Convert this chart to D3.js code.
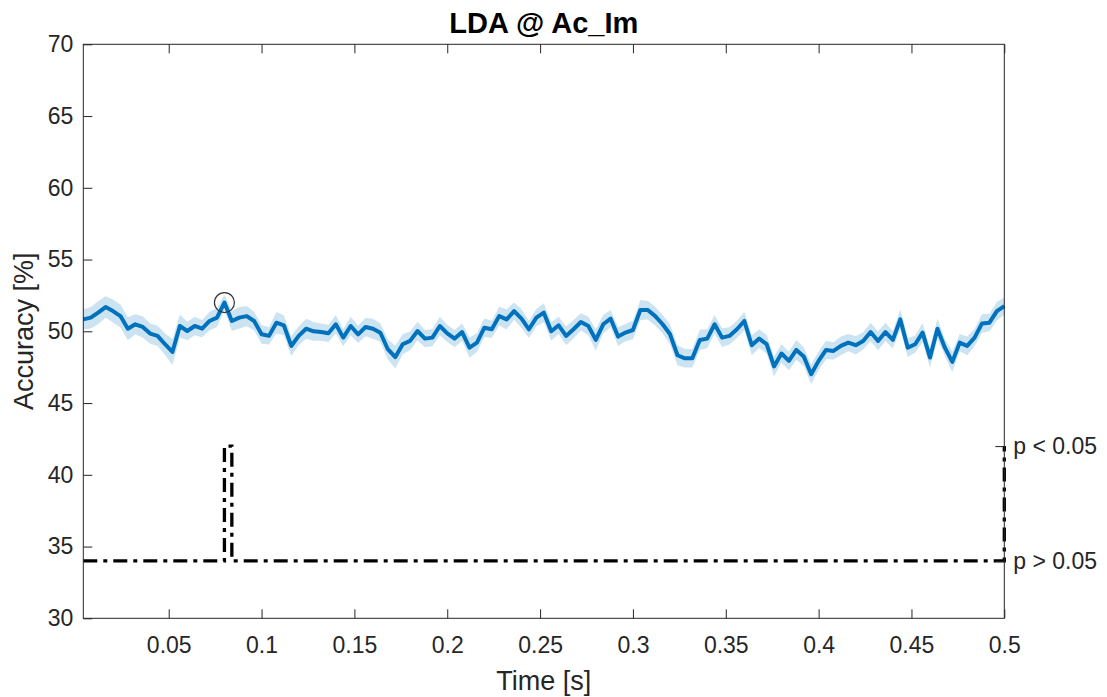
<!DOCTYPE html>
<html>
<head>
<meta charset="utf-8">
<script src="https://cdn.jsdelivr.net/npm/d3@7"></script>
<style>
  html, body { margin: 0; padding: 0; background: #fff; }
  svg { display: block; font-family: "Liberation Sans", Arial, Helvetica, sans-serif; }
</style>
</head>
<body>
<svg id="chart" width="1107" height="697"></svg>
<script>
// Decoding accuracy over time (LDA classifier, condition Ac_Im), sampled at 250 Hz
const sampleRate = 250;

const accuracy = [
  50.83, 50.95, 51.30, 51.69, 51.41, 51.06, 50.18, 50.49, 50.30, 49.84,
  49.68, 49.10, 48.56, 50.37, 50.02, 50.37, 50.18, 50.72, 50.95, 52.00,
  50.72, 50.95, 51.06, 50.72, 49.79, 49.68, 50.60, 50.42, 48.98, 49.68,
  50.18, 50.00, 49.95, 49.86, 50.49, 49.56, 50.37, 49.79, 50.30, 50.18,
  49.90, 48.75, 48.20, 49.10, 49.33, 50.02, 49.49, 49.56, 50.37, 49.86,
  49.49, 49.95, 48.86, 49.21, 50.25, 50.14, 51.06, 50.83, 51.41, 50.88,
  50.14, 50.95, 51.30, 50.00, 50.42, 49.68, 50.14, 50.65, 50.37, 49.40,
  50.49, 50.88, 49.63, 49.91, 50.09, 51.48, 51.48, 51.06, 50.49, 49.79,
  48.33, 48.12, 48.12, 49.40, 49.49, 50.49, 49.56, 49.68, 50.14, 50.72,
  49.03, 49.49, 49.10, 47.55, 48.45, 47.94, 48.70, 48.24, 47.01, 47.94,
  48.70, 48.63, 48.98, 49.21, 49.03, 49.33, 49.95, 49.33, 49.95, 49.40,
  50.83, 48.86, 49.10, 49.91, 48.17, 50.18, 48.86, 47.87, 49.21, 48.98,
  49.56, 50.55, 50.60, 51.41, 51.76
];

// Standard error of the mean for each sample
const sem = [
  0.70, 0.75, 0.80, 0.75, 0.80, 0.80, 0.80, 0.70, 0.75, 0.70,
  0.70, 0.75, 0.90, 0.80, 0.65, 0.65, 0.60, 0.65, 0.65, 0.55,
  0.70, 0.75, 0.70, 0.65, 0.65, 0.60, 0.75, 0.70, 0.70, 0.65,
  0.70, 0.65, 0.60, 0.60, 0.65, 0.60, 0.65, 0.60, 0.65, 0.70,
  0.65, 0.70, 0.80, 0.70, 0.65, 0.65, 0.60, 0.60, 0.65, 0.60,
  0.60, 0.60, 0.70, 0.65, 0.65, 0.60, 0.65, 0.70, 0.60, 0.65,
  0.60, 0.60, 0.65, 0.65, 0.60, 0.65, 0.65, 0.60, 0.65, 0.75,
  0.65, 0.60, 0.65, 0.60, 0.65, 0.70, 0.65, 0.65, 0.65, 0.70,
  0.70, 0.65, 0.65, 0.70, 0.65, 0.65, 0.65, 0.60, 0.60, 0.65,
  0.70, 0.65, 0.65, 0.70, 0.65, 0.65, 0.70, 0.65, 0.70, 0.65,
  0.65, 0.60, 0.65, 0.60, 0.65, 0.60, 0.65, 0.65, 0.65, 0.60,
  0.70, 0.65, 0.60, 0.65, 0.70, 0.70, 0.60, 0.70, 0.60, 0.65,
  0.60, 0.65, 0.60, 0.65, 0.60
];

// Samples (1-based) where the cluster test reaches p < 0.05
const significantSamples = [20, 125];

const xTicks = [0.05, 0.1, 0.15, 0.2, 0.25, 0.3, 0.35, 0.4, 0.45, 0.5];
const yTicks = [30, 35, 40, 45, 50, 55, 60, 65, 70];
const sigLevels = [34, 42];
const sigLabels = ["p > 0.05", "p < 0.05"];

const titleText = "LDA @ Ac_Im";
const xLabelText = "Time [s]";
const yLabelText = "Accuracy [%]";

// ---- layout ----
const plot = { left: 83.3, top: 44.3, right: 1004.3, bottom: 618.3 };
const axisColor = "#262626";
const lineBlue = "#0072BD";

const svg = d3.select("#chart");

const data = accuracy.map((v, i) => ({
  t: (i + 1) / sampleRate,
  v: v,
  se: sem[i],
  sig: significantSamples.includes(i + 1) ? 1 : 0
}));

const x = d3.scaleLinear()
  .domain([1 / sampleRate, accuracy.length / sampleRate])
  .range([plot.left, plot.right]);

const y = d3.scaleLinear()
  .domain([30, 70])
  .range([plot.bottom, plot.top]);

// SEM band
const band = d3.area()
  .x(d => x(d.t))
  .y0(d => y(d.v - d.se))
  .y1(d => y(d.v + d.se));

svg.append("path")
  .datum(data)
  .attr("d", band)
  .attr("fill", lineBlue)
  .attr("fill-opacity", 0.2)
  .attr("stroke", "none");

// Mean accuracy
const meanLine = d3.line()
  .x(d => x(d.t))
  .y(d => y(d.v));

svg.append("path")
  .datum(data)
  .attr("d", meanLine)
  .attr("fill", "none")
  .attr("stroke", lineBlue)
  .attr("stroke-width", 4)
  .attr("stroke-linejoin", "round");

// Marker on the peak accuracy
const peak = data.reduce((a, b) => (b.v > a.v ? b : a));
svg.append("circle")
  .attr("cx", x(peak.t))
  .attr("cy", y(peak.v))
  .attr("r", 10)
  .attr("fill", "none")
  .attr("stroke", "#333")
  .attr("stroke-width", 1.2);

// Significance trace
const sigLine = d3.line()
  .curve(d3.curveStepAfter)
  .x(d => x(d.t))
  .y(d => y(d.sig ? sigLevels[1] : sigLevels[0]));

svg.append("path")
  .datum(data)
  .attr("d", sigLine)
  .attr("fill", "none")
  .attr("stroke", "#000")
  .attr("stroke-width", 3.3)
  .attr("stroke-dasharray", "14,6,4,6");

// ---- axes ----
function styleAxis(g) {
  g.select(".domain").remove();
  g.selectAll(".tick line").attr("stroke", axisColor).attr("stroke-width", 1);
  g.selectAll(".tick text")
    .attr("fill", axisColor)
    .style("font-size", "23px")
    .style("font-family", "'Liberation Sans', Arial, sans-serif");
}

svg.append("g")
  .attr("transform", `translate(0,${plot.bottom})`)
  .call(d3.axisBottom(x).tickValues(xTicks).tickFormat(d3.format("~g"))
    .tickSize(-9).tickSizeOuter(0).tickPadding(18))
  .call(styleAxis);

svg.append("g")
  .attr("transform", `translate(0,${plot.top})`)
  .call(d3.axisTop(x).tickValues(xTicks).tickFormat("")
    .tickSize(-9).tickSizeOuter(0))
  .call(styleAxis);

svg.append("g")
  .attr("transform", `translate(${plot.left},0)`)
  .call(d3.axisLeft(y).tickValues(yTicks).tickFormat(d3.format("d"))
    .tickSize(-9).tickSizeOuter(0).tickPadding(10))
  .call(styleAxis);

svg.append("g")
  .attr("transform", `translate(${plot.right},0)`)
  .call(d3.axisRight(y).tickValues(sigLevels).tickFormat((d, i) => sigLabels[i])
    .tickSize(-9).tickSizeOuter(0).tickPadding(9))
  .call(styleAxis);

// Frame
svg.append("rect")
  .attr("x", plot.left)
  .attr("y", plot.top)
  .attr("width", plot.right - plot.left)
  .attr("height", plot.bottom - plot.top)
  .attr("fill", "none")
  .attr("stroke", axisColor)
  .attr("stroke-width", 1);

// ---- labels ----
const midX = (plot.left + plot.right) / 2;
const midY = (plot.top + plot.bottom) / 2;

svg.append("text")
  .attr("x", midX)
  .attr("y", 33)
  .attr("text-anchor", "middle")
  .attr("fill", "#000")
  .style("font-size", "29px")
  .style("font-weight", "bold")
  .text(titleText);

svg.append("text")
  .attr("x", midX)
  .attr("y", 690)
  .attr("text-anchor", "middle")
  .attr("fill", axisColor)
  .style("font-size", "27px")
  .text(xLabelText);

svg.append("text")
  .attr("transform", `translate(33,${midY}) rotate(-90)`)
  .attr("text-anchor", "middle")
  .attr("fill", axisColor)
  .style("font-size", "27px")
  .text(yLabelText);
</script>
</body>
</html>
